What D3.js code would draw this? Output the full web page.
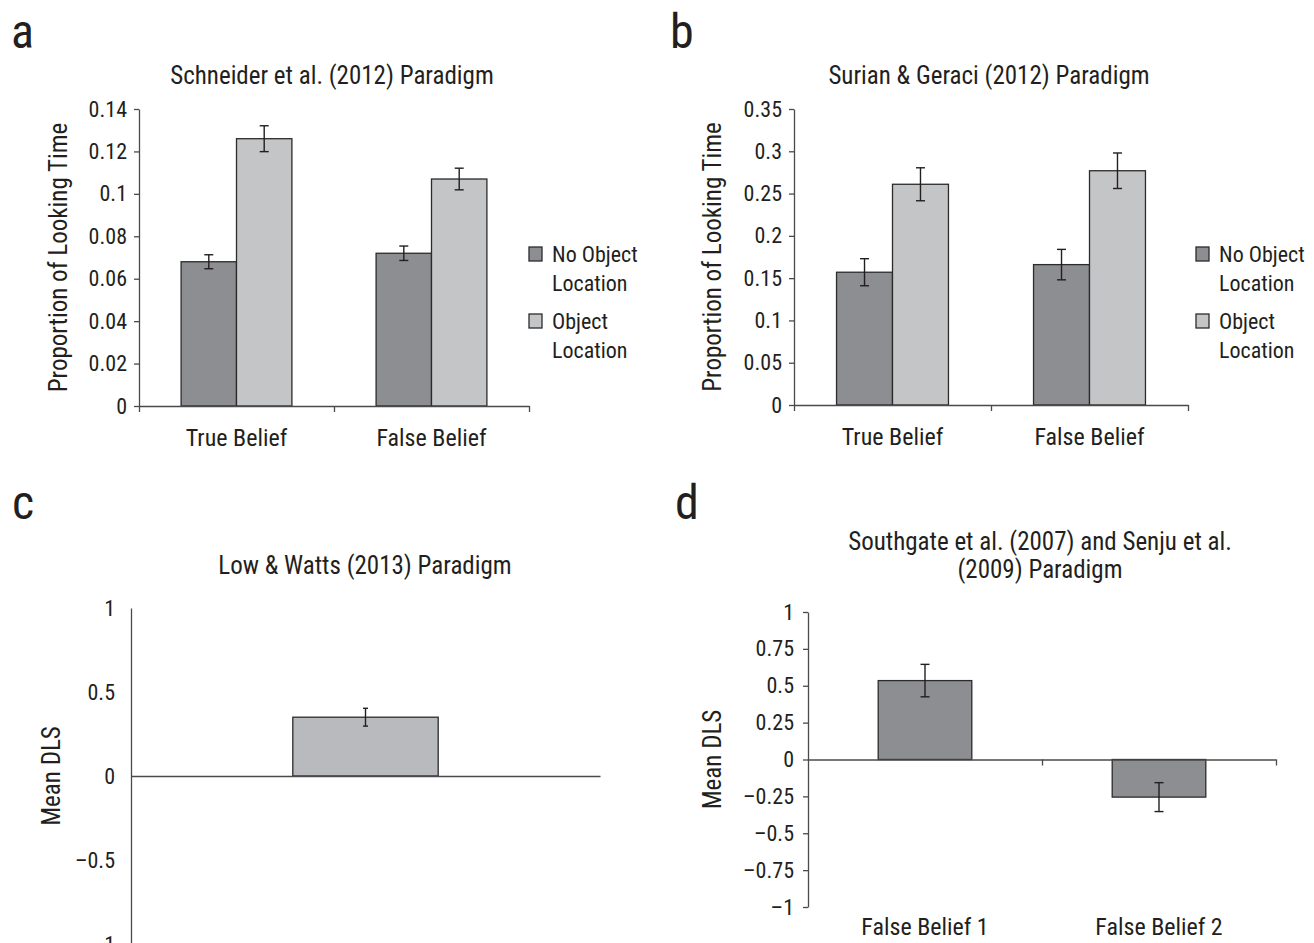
<!DOCTYPE html>
<html>
<head>
<meta charset="utf-8">
<script src="https://cdn.jsdelivr.net/npm/d3@7"></script>
<style>
  body { margin: 0; background: #fff; }
  text { font-family: "Liberation Sans Narrow", "Roboto Condensed", "Arial Narrow", Roboto, sans-serif; fill: #231f20; }
  .axis path, .axis line { stroke: #4a4a4a; stroke-width: 1.3; }
</style>
</head>
<body>
<div id="chart"></div>
<script>
// ---- data ----
const beliefCats = ["True Belief", "False Belief"];
const locSeries = ["No Object Location", "Object Location"];
const legendLines = [["No Object", "Location"], ["Object", "Location"]];

// (a) Schneider et al. (2012)
const schneiderNoObj = [0.068, 0.072];
const schneiderObj = [0.126, 0.107];
const schneiderNoObjErr = [0.0033, 0.0034];
const schneiderObjErr = [0.0061, 0.0051];
const schneiderTicks = [0, 0.02, 0.04, 0.06, 0.08, 0.1, 0.12, 0.14];

// (b) Surian & Geraci (2012)
const surianNoObj = [0.157, 0.166];
const surianObj = [0.261, 0.277];
const surianNoObjErr = [0.016, 0.018];
const surianObjErr = [0.0195, 0.021];
const surianTicks = [0, 0.05, 0.1, 0.15, 0.2, 0.25, 0.3, 0.35];

// (c) Low & Watts (2013)
const lowCats = [""];
const lowMean = [0.35];
const lowErr = [0.053];
const lowTicks = [-1, -0.5, 0, 0.5, 1];

// (d) Southgate et al. (2007) / Senju et al. (2009)
const southCats = ["False Belief 1", "False Belief 2"];
const southMean = [0.535, -0.255];
const southErr = [0.11, 0.098];
const southTicks = [-1, -0.75, -0.5, -0.25, 0, 0.25, 0.5, 0.75, 1];

const darkFill = "#8d8e92", lightFill = "#c4c5c7", cFill = "#b9babd";
const fmt = d => String(+d.toFixed(3)).replace("-", "\u2013");
const tickFont = "22px", labelFont = "24px", titleFont = "25px";

const svg = d3.select("#chart").append("svg")
  .attr("width", 1314)
  .attr("height", 943);

// panel letters
const letters = [["a", 11, 48], ["b", 670, 48], ["c", 12, 519], ["d", 675, 519]];
svg.selectAll(".letter").data(letters).enter().append("text")
  .attr("class", "letter")
  .attr("x", d => d[1]).attr("y", d => d[2])
  .style("font-size", "48px")
  .text(d => d[0]);

function errorBars(g, pts, capW) {
  // pts: [cx, yTop, yBot]
  const eb = g.append("g").attr("stroke", "#231f20").attr("stroke-width", 1.4);
  pts.forEach(p => {
    eb.append("line").attr("x1", p[0]).attr("x2", p[0]).attr("y1", p[1]).attr("y2", p[2]);
    eb.append("line").attr("x1", p[0] - capW / 2).attr("x2", p[0] + capW / 2).attr("y1", p[1]).attr("y2", p[1]);
    eb.append("line").attr("x1", p[0] - capW / 2).attr("x2", p[0] + capW / 2).attr("y1", p[2]).attr("y2", p[2]);
  });
}

// grouped panels a & b
function drawGrouped(o) {
  const g = svg.append("g");
  const y = d3.scaleLinear().domain([0, d3.max(o.ticks)]).range([o.bottom, o.top]);
  const x0 = d3.scaleBand().domain(beliefCats).range([o.left, o.right]).padding(0);
  const x1 = d3.scaleBand().domain(locSeries).range([0, x0.bandwidth()]).paddingInner(0).paddingOuter(0.76);
  const xEdge = d3.scaleLinear().domain([0, beliefCats.length]).range([o.left, o.right]);

  g.append("g").attr("class", "axis")
    .attr("transform", `translate(${o.left},0)`)
    .call(d3.axisLeft(y).tickValues(o.ticks).tickSize(5).tickSizeOuter(0).tickPadding(7).tickFormat(fmt))
    .call(s => s.selectAll("text").style("font-size", tickFont));

  const rows = beliefCats.map((c, i) => [
    { cat: c, s: locSeries[0], v: o.noObj[i], e: o.noObjErr[i], fill: darkFill },
    { cat: c, s: locSeries[1], v: o.obj[i], e: o.objErr[i], fill: lightFill }
  ]).flat();

  g.selectAll(".bar").data(rows).enter().append("rect")
    .attr("x", d => x0(d.cat) + x1(d.s))
    .attr("width", x1.bandwidth())
    .attr("y", d => y(d.v))
    .attr("height", d => y(0) - y(d.v))
    .attr("fill", d => d.fill)
    .attr("stroke", "#2b2b2b")
    .attr("stroke-width", 1.3);

  g.append("g").attr("class", "axis")
    .attr("transform", `translate(0,${y(0)})`)
    .call(d3.axisBottom(xEdge).tickValues(d3.range(beliefCats.length + 1)).tickSize(6).tickSizeOuter(0).tickFormat(""));

  errorBars(g, rows.map(d => [x0(d.cat) + x1(d.s) + x1.bandwidth() / 2, y(d.v + d.e), y(d.v - d.e)]), 9);

  g.selectAll(".cat").data(beliefCats).enter().append("text")
    .attr("x", d => x0(d) + x0.bandwidth() / 2)
    .attr("y", o.bottom + 40)
    .attr("text-anchor", "middle")
    .style("font-size", labelFont)
    .text(d => d);

  g.append("text")
    .attr("x", (o.left + o.right) / 2 - 2)
    .attr("y", o.titleY)
    .attr("text-anchor", "middle")
    .style("font-size", titleFont)
    .text(o.title);

  g.append("text")
    .attr("transform", `translate(${o.ylabX},${(o.top + o.bottom) / 2}) rotate(-90)`)
    .attr("text-anchor", "middle")
    .style("font-size", titleFont)
    .text("Proportion of Looking Time");

  const lg = g.selectAll(".leg").data(locSeries).enter().append("g")
    .attr("transform", (d, i) => `translate(${o.legX},${248 + i * 67})`);
  lg.append("rect").attr("width", 13).attr("height", 14).attr("y", -1)
    .attr("fill", (d, i) => i === 0 ? darkFill : lightFill)
    .attr("stroke", "#2b2b2b").attr("stroke-width", 1.3);
  lg.append("text").attr("x", 23).attr("y", 14).style("font-size", tickFont)
    .text((d, i) => legendLines[i][0]);
  lg.append("text").attr("x", 23).attr("y", 43).style("font-size", tickFont)
    .text((d, i) => legendLines[i][1]);
}

drawGrouped({
  left: 139, right: 529, top: 109, bottom: 406, ticks: schneiderTicks,
  noObj: schneiderNoObj, obj: schneiderObj, noObjErr: schneiderNoObjErr, objErr: schneiderObjErr,
  title: "Schneider et al. (2012) Paradigm", titleY: 84, ylabX: 67, legX: 529
});
drawGrouped({
  left: 794, right: 1188, top: 109, bottom: 405, ticks: surianTicks,
  noObj: surianNoObj, obj: surianObj, noObjErr: surianNoObjErr, objErr: surianObjErr,
  title: "Surian & Geraci (2012) Paradigm", titleY: 84, ylabX: 721, legX: 1196
});

// panel c
(function () {
  const g = svg.append("g");
  const y = d3.scaleLinear().domain([-1, 1]).range([944, 608]);
  const x = d3.scaleBand().domain(lowCats).range([131, 600]).padding(0);
  const xLine = d3.scaleLinear().domain([0, 1]).range([131, 600]);
  const bw = x.bandwidth() * 0.31;

  g.append("g").attr("class", "axis")
    .attr("transform", "translate(131,0)")
    .call(d3.axisLeft(y).tickValues(lowTicks).tickSize(0).tickPadding(16).tickFormat(fmt))
    .call(s => s.selectAll("text").style("font-size", tickFont));

  g.selectAll(".bar").data(lowMean).enter().append("rect")
    .attr("x", (d, i) => x(lowCats[i]) + x.bandwidth() / 2 - bw / 2)
    .attr("width", bw)
    .attr("y", d => y(Math.max(0, d)))
    .attr("height", d => Math.abs(y(d) - y(0)))
    .attr("fill", cFill)
    .attr("stroke", "#2b2b2b")
    .attr("stroke-width", 1.3);

  g.append("g").attr("class", "axis")
    .attr("transform", `translate(0,${y(0)})`)
    .call(d3.axisBottom(xLine).tickValues([]).tickSizeOuter(0));

  errorBars(g, lowMean.map((d, i) => [x(lowCats[i]) + x.bandwidth() / 2, y(d + lowErr[i]), y(d - lowErr[i])]), 5);

  g.append("text").attr("x", 365).attr("y", 574).attr("text-anchor", "middle")
    .style("font-size", titleFont).text("Low & Watts (2013) Paradigm");
  g.append("text").attr("transform", `translate(60,${y(0)}) rotate(-90)`).attr("text-anchor", "middle")
    .style("font-size", titleFont).text("Mean DLS");
})();

// panel d
(function () {
  const g = svg.append("g");
  const y = d3.scaleLinear().domain([-1, 1]).range([907, 612]);
  const x = d3.scaleBand().domain(southCats).range([808, 1276]).paddingInner(0.6).paddingOuter(0.3);
  const xEdge = d3.scaleLinear().domain([0, southCats.length]).range([808, 1276]);

  g.append("g").attr("class", "axis")
    .attr("transform", "translate(808,0)")
    .call(d3.axisLeft(y).tickValues(southTicks).tickSize(5).tickSizeOuter(0).tickPadding(9).tickFormat(fmt))
    .call(s => s.selectAll("text").style("font-size", tickFont));

  g.selectAll(".bar").data(southMean).enter().append("rect")
    .attr("x", (d, i) => x(southCats[i]))
    .attr("width", x.bandwidth())
    .attr("y", d => y(Math.max(0, d)))
    .attr("height", d => Math.abs(y(d) - y(0)))
    .attr("fill", darkFill)
    .attr("stroke", "#2b2b2b")
    .attr("stroke-width", 1.3);

  g.append("g").attr("class", "axis")
    .attr("transform", `translate(0,${y(0)})`)
    .call(d3.axisBottom(xEdge).tickValues([1, 2]).tickSize(6).tickSizeOuter(0).tickFormat(""));

  errorBars(g, southMean.map((d, i) => [x(southCats[i]) + x.bandwidth() / 2, y(d + southErr[i]), y(d - southErr[i])]), 9);

  g.selectAll(".cat").data(southCats).enter().append("text")
    .attr("x", d => x(d) + x.bandwidth() / 2)
    .attr("y", 935)
    .attr("text-anchor", "middle")
    .style("font-size", labelFont)
    .text(d => d);

  g.append("text").attr("x", 1040).attr("y", 550).attr("text-anchor", "middle")
    .style("font-size", titleFont).text("Southgate et al. (2007) and Senju et al.");
  g.append("text").attr("x", 1040).attr("y", 578).attr("text-anchor", "middle")
    .style("font-size", titleFont).text("(2009) Paradigm");
  g.append("text").attr("transform", `translate(721,${y(0)}) rotate(-90)`).attr("text-anchor", "middle")
    .style("font-size", titleFont).text("Mean DLS");
})();
</script>
</body>
</html>
